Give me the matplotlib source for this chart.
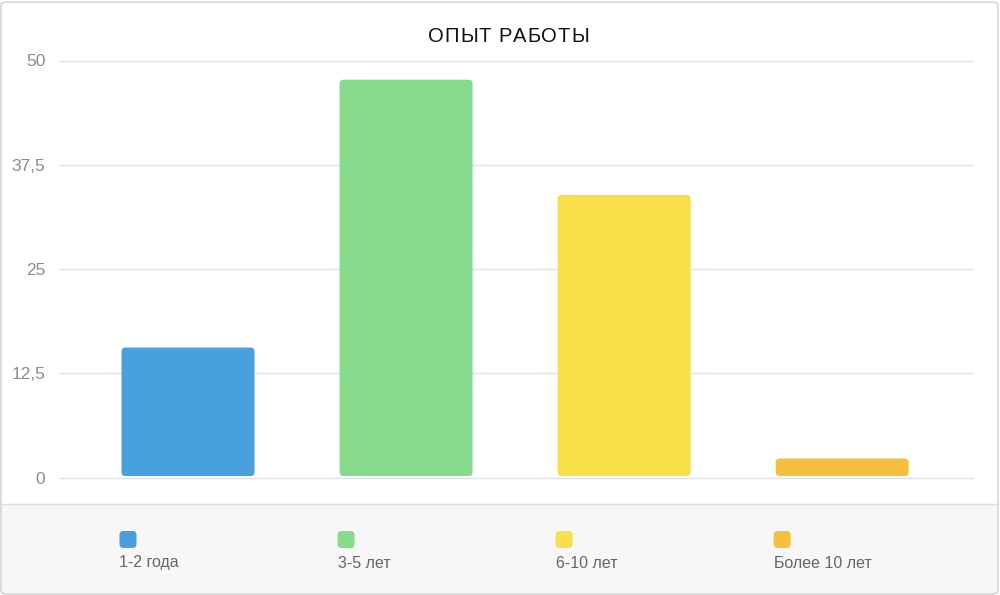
import matplotlib
matplotlib.use("Agg")
import matplotlib.pyplot as plt
from matplotlib.patches import FancyBboxPatch, Rectangle

categories = ["1-2 года", "3-5 лет", "6-10 лет", "Более 10 лет"]
values = [15.6, 47.7, 33.9, 2.3]
colors = ["#48a0dc", "#88db8c", "#f9e04b", "#f5c03f"]
yticks = [0, 12.5, 25, 37.5, 50]
ytick_labels = ["0", "12,5", "25", "37,5", "50"]
title = "ОПЫТ РАБОТЫ"

plt.rcParams['font.family'] = ['Liberation Sans', 'DejaVu Sans']

fig = plt.figure(figsize=(10, 5.95), dpi=100)
W, H = 1000, 595

# outer frame and legend band
fig.patches.append(Rectangle((1 / W, 1 / H), 997 / W, 89 / H, transform=fig.transFigure,
                             facecolor="#f7f7f7", edgecolor="none", zorder=0))
fig.lines.append(plt.Line2D([1 / W, 998 / W], [1 - 504 / H, 1 - 504 / H],
                            transform=fig.transFigure, color="#dcdcdc", lw=1))
fig.patches.append(FancyBboxPatch((1 / W, 1 / H), 997 / W, 592 / H,
                                  boxstyle="round,pad=0,rounding_size=0.006",
                                  transform=fig.transFigure, facecolor="none",
                                  edgecolor="#d6d6d6", lw=1.2, zorder=5))

ax = fig.add_axes([60 / W, 1 - 477.7 / H, 913 / W, (477.7 - 60.5) / H])
x = list(range(len(categories)))
ax.set_xlim(-0.587, 3.60)
ax.set_ylim(0, 50)

width = 0.61
bottom = 0.2
# rounding: work out aspect so corners look round in pixels
px_x = 913 / (3.60 + 0.587)
px_y = (477.7 - 60.5) / 50
r = 4 / px_x
aspect = (4 / px_y) / r
for xi, v, c in zip(x, values, colors):
    ax.add_patch(FancyBboxPatch((xi - width / 2, bottom), width, v - bottom,
                                boxstyle=f"round,pad=0,rounding_size={r}",
                                mutation_aspect=aspect, facecolor=c,
                                edgecolor="none", zorder=3))

ax.set_yticks(yticks)
ax.set_yticklabels(ytick_labels, color="#8c8c8c", fontsize=12.5)
ax.set_xticks([])
ax.tick_params(axis="y", length=0, pad=10.5)
for gy in yticks:
    ax.axhline(gy, color="#dde2e8", lw=1, zorder=1, clip_on=False)
for s in ax.spines.values():
    s.set_visible(False)

# title with letter spacing
renderer = fig.canvas.get_renderer()
spacing = 0.9
pieces = []
total = 0
for ch in title:
    t = fig.text(0, 0, ch, fontsize=14.5, color="#111111")
    w = t.get_window_extent(renderer).width
    t.remove()
    pieces.append((ch, w))
    total += w + spacing
total -= spacing
cx = 508.5 - total / 2
for ch, w in pieces:
    fig.text(cx / W, 1 - 37 / H, ch, ha="left", va="center", fontsize=14.5,
             color="#111111")
    cx += w + spacing

# legend: marker above label, aligned to bar left edges
for xi, lab, c in zip(x, categories, colors):
    fx = ax.transData.transform((xi - width / 2, 0))[0] / W - 2 / W
    fig.patches.append(FancyBboxPatch((fx, 1 - 548 / H), 17 / W, 17 / H,
                                      boxstyle="round,pad=0,rounding_size=0.004",
                                      mutation_aspect=W / H,
                                      transform=fig.transFigure, facecolor=c,
                                      edgecolor="none", zorder=2))
    fig.text(fx, 1 - 563 / H, lab, ha="left", va="center", fontsize=11.5,
             color="#666666")

fig.savefig("out.png", dpi=100)
